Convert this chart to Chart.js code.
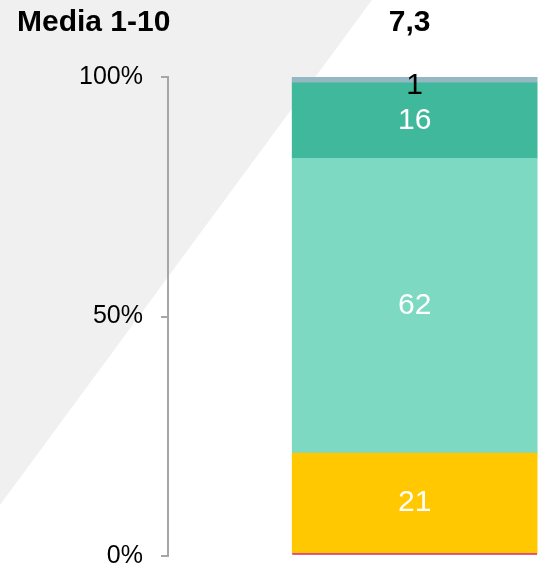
<!DOCTYPE html>
<html>
<head>
<meta charset="utf-8">
<script src="https://cdn.jsdelivr.net/npm/chart.js@4/dist/chart.umd.min.js"></script>
<style>
  html, body { margin: 0; padding: 0; background: #fff; }
  #wrap { width: 538px; height: 571px; }
</style>
</head>
<body>
<div id="wrap"><canvas id="myChart"></canvas></div>
<script>
// data (percent of answers, bottom to top)
const categories = ['', '', 'Media 1-10', ''];
const seriesNames = ['1-4', '5-6', '7-8', '9', '10'];
const seriesValues = [0.6, 20.9, 61.5, 15.8, 1.2];
const seriesColors = ['#d6215f', '#ffc800', '#7ed9c3', '#3fb89b', '#94b7c2'];
const labelColors = [null, '#ffffff', '#ffffff', '#ffffff', '#000000'];
const yTicks = [0, 50, 100];
const meanValue = 7.3;
const titleText = 'Media 1-10';

const FONT = "'Liberation Sans', Arial, sans-serif";

// one dataset per segment, value sits on the 3rd category
const datasets = seriesValues.map((v, i) => ({
    label: seriesNames[i],
    data: categories.map((c, j) => j === 2 ? v : null),
    backgroundColor: seriesColors[i],
    borderColor: '#f2a3c0',
    borderWidth: i === 0 ? { top: 0, left: 0, right: 0, bottom: 2 } : 0,
    borderSkipped: false,
    barThickness: 245,
    labelColor: labelColors[i]
}));

// grey diagonal panel in the background + title texts
const decoPlugin = {
    id: 'deco',
    beforeDraw(chart) {
        const ctx = chart.ctx;
        ctx.save();
        ctx.fillStyle = '#f0f0f0';
        ctx.beginPath();
        ctx.moveTo(0, 0);
        ctx.lineTo(372, 0);
        ctx.lineTo(0, 505);
        ctx.closePath();
        ctx.fill();
        ctx.restore();
    },
    afterDraw(chart) {
        const ctx = chart.ctx;
        ctx.save();
        ctx.fillStyle = '#000';
        ctx.font = 'bold 30px ' + FONT;
        ctx.textBaseline = 'middle';
        ctx.textAlign = 'left';
        ctx.fillText(titleText, 17, 23);
        ctx.textAlign = 'center';
        const bar = chart.getDatasetMeta(0).data[2];
        ctx.fillText(meanValue.toFixed(1).replace('.', ','), bar.x - 5, 23);
        ctx.restore();
    }
};

// value labels in the middle of each segment
const labelPlugin = {
    id: 'segLabels',
    afterDatasetsDraw(chart) {
        const ctx = chart.ctx;
        ctx.save();
        ctx.font = '30px ' + FONT;
        ctx.textAlign = 'center';
        ctx.textBaseline = 'middle';
        chart.data.datasets.forEach((ds, i) => {
            if (!ds.labelColor) return;
            const el = chart.getDatasetMeta(i).data[2];
            const v = ds.data[2];
            ctx.fillStyle = ds.labelColor;
            let y = (el.y + el.base) / 2;
            if (v < 3) y += 6;
            ctx.fillText(Math.round(v), el.x, y);
        });
        ctx.restore();
    }
};

new Chart(document.getElementById('myChart'), {
    type: 'bar',
    data: { labels: categories, datasets: datasets },
    options: {
        responsive: true,
        maintainAspectRatio: false,
        animation: false,
        layout: { padding: { top: 77, bottom: 15, left: 0, right: 0 } },
        plugins: {
            legend: { display: false },
            tooltip: { enabled: false }
        },
        scales: {
            x: {
                stacked: true,
                display: false,
                offset: false
            },
            y: {
                stacked: true,
                min: 0,
                max: 100,
                afterFit(scale) {
                    scale.width = 168;
                    scale.paddingTop = 0;
                    scale.paddingBottom = 0;
                },
                afterBuildTicks(scale) { scale.ticks = yTicks.map(v => ({ value: v })); },
                border: { display: true, color: '#a6a6a6', width: 2 },
                grid: { drawOnChartArea: false, drawTicks: true, tickLength: 7, color: '#a6a6a6', lineWidth: 2 },
                ticks: {
                    padding: 18,
                    color: '#000',
                    font: { family: FONT, size: 25 },
                    callback: v => v + '%'
                }
            }
        }
    },
    plugins: [decoPlugin, labelPlugin]
});
</script>
</body>
</html>
